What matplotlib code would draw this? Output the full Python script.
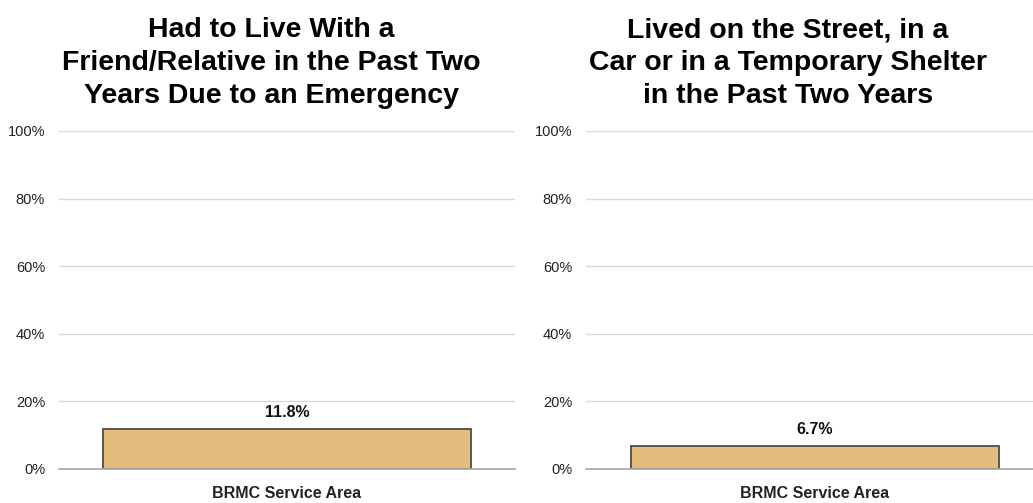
import matplotlib
matplotlib.use("Agg")
import matplotlib.pyplot as plt
from matplotlib.ticker import PercentFormatter

# Chart data
titles = [
    "Had to Live With a\nFriend/Relative in the Past Two\nYears Due to an Emergency",
    "Lived on the Street, in a\nCar or in a Temporary Shelter\nin the Past Two Years",
]
category = "BRMC Service Area"
values = [11.8, 6.7]
yticks = [0, 20, 40, 60, 80, 100]

BAR_COLOR = "#e5bb7e"
EDGE_COLOR = "#404040"
GRID_COLOR = "#d9d9d9"
BASE_COLOR = "#a6a6a6"

plt.rcParams["font.family"] = ["Liberation Sans", "DejaVu Sans"]
NARROW = ["Liberation Sans Narrow", "Liberation Sans", "DejaVu Sans"]

fig = plt.figure(figsize=(10.33, 5.03), dpi=100)

# axes boxes in figure fractions (left, bottom, width, height)
boxes = [
    (59 / 1033, 0.0676, 456 / 1033, 0.672),
    (586 / 1033, 0.0676, 458 / 1033, 0.672),
]
title_x = [0.465, 0.441]  # titles sit a bit left of the plot centre

for box, title, val, tx in zip(boxes, titles, values, title_x):
    ax = fig.add_axes(box)
    ax.bar([0], [val], width=0.805, color=BAR_COLOR, edgecolor=EDGE_COLOR, linewidth=1.2, zorder=3)
    ax.set_xlim(-0.5, 0.5)
    ax.set_ylim(0, 100)
    ax.set_yticks(yticks)
    ax.yaxis.set_major_formatter(PercentFormatter(decimals=0))
    for lab in ax.get_yticklabels():
        lab.set_family(NARROW)
    ax.set_xticks([0])
    ax.set_xticklabels([category], fontsize=11.5, fontweight="bold")
    ax.tick_params(axis="both", length=0, colors="#222222")
    ax.tick_params(axis="y", labelsize=10.5, pad=10)
    ax.tick_params(axis="x", pad=12)
    ax.grid(axis="y", color=GRID_COLOR, linewidth=1, zorder=0)
    for side in ["top", "right", "left"]:
        ax.spines[side].set_visible(False)
    ax.spines["bottom"].set_color(BASE_COLOR)
    ax.spines["bottom"].set_linewidth(1.2)
    ax.spines["bottom"].set_zorder(4)
    ax.text(0, val + 2.7, f"{val:.1f}%", ha="center", va="bottom", fontsize=11.5,
            fontweight="bold", color="#111111")
    ax.set_title(title, x=tx, fontsize=20.5, fontweight="bold", linespacing=1.35, pad=20,
                 color="#000000")

fig.savefig("out.png", dpi=100)
